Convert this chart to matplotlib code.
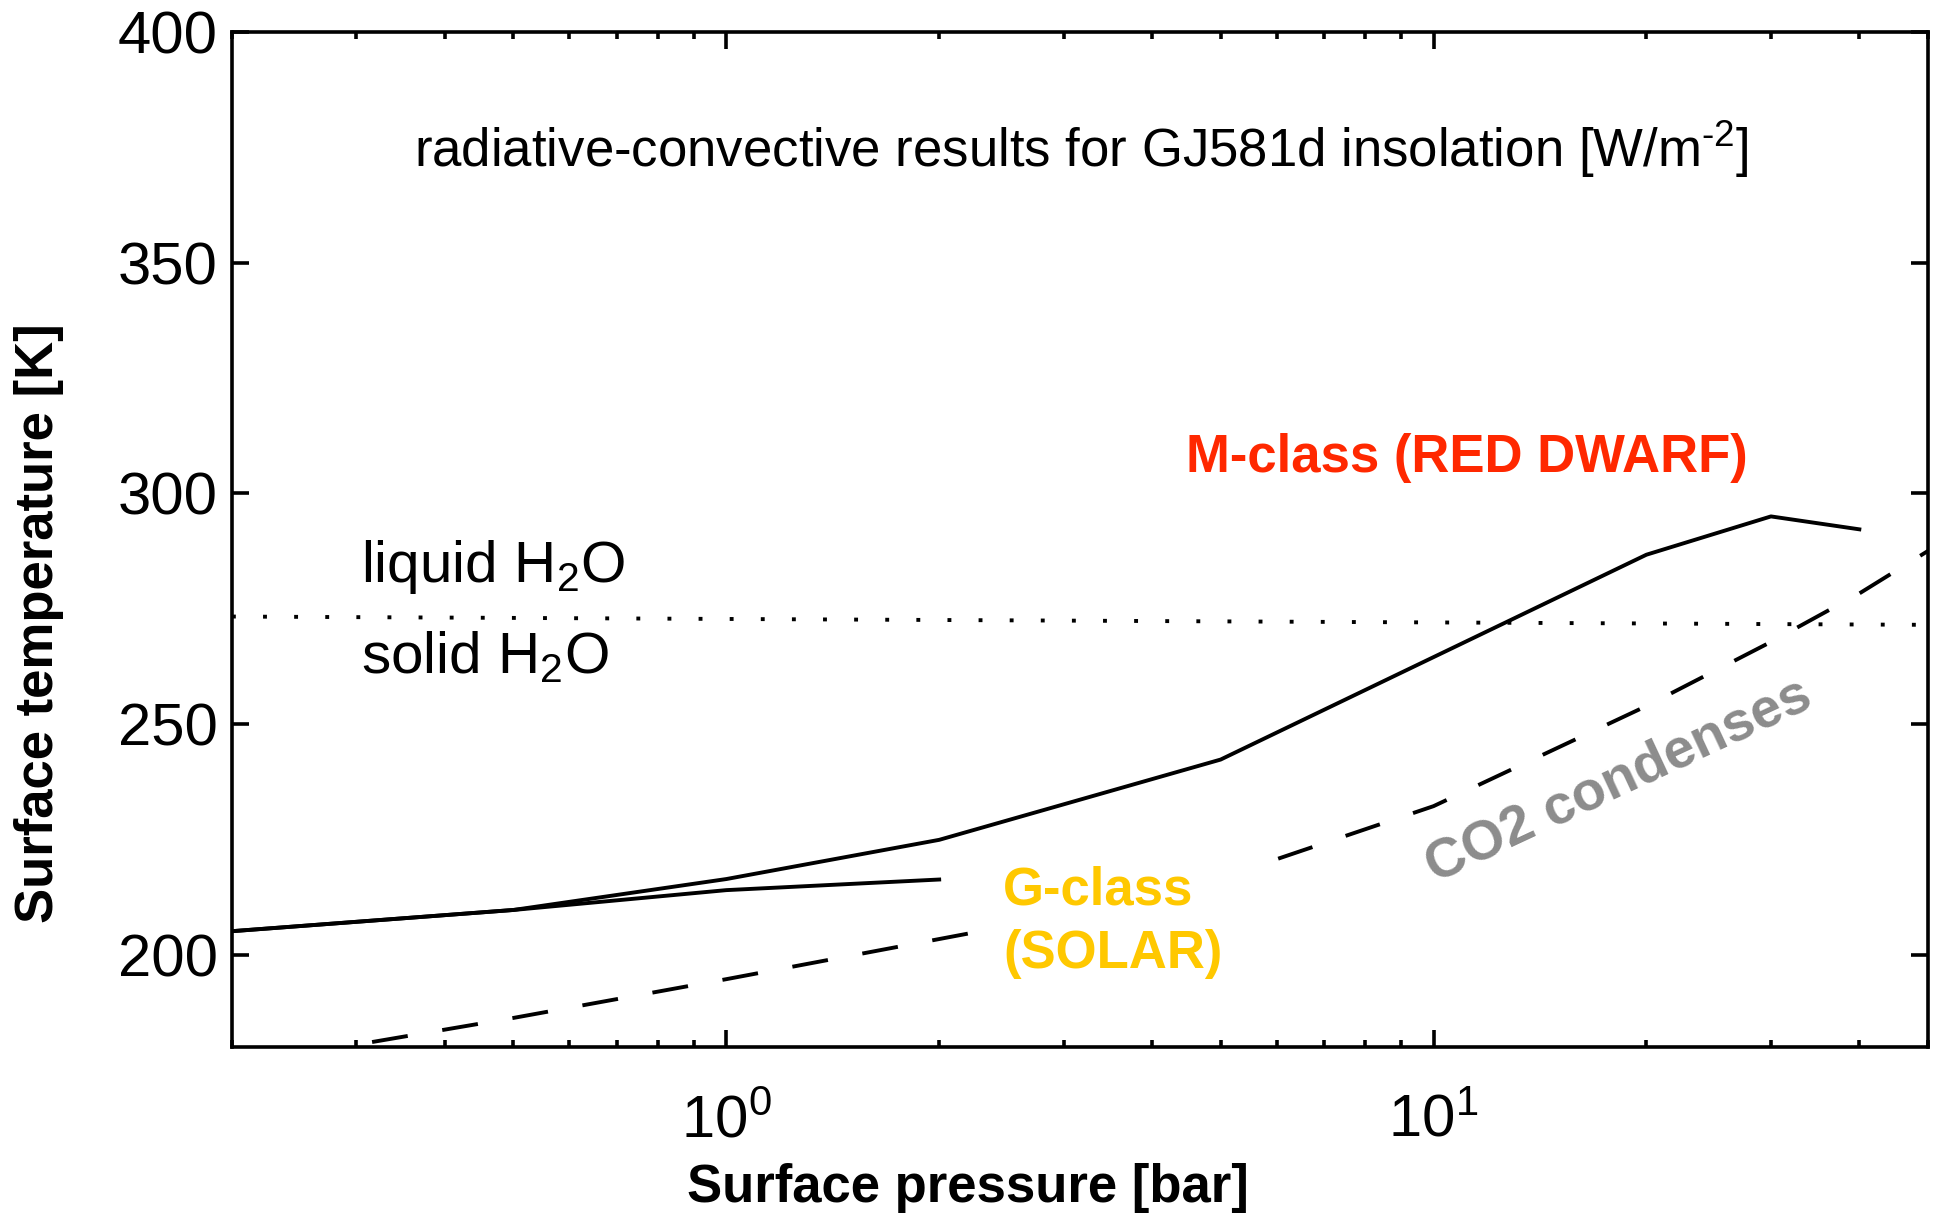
import matplotlib
matplotlib.use("Agg")
import matplotlib.pyplot as plt
from matplotlib.patches import Rectangle

plt.rcParams['font.family'] = ['Liberation Sans', 'DejaVu Sans']
plt.rcParams['mathtext.fontset'] = 'custom'
plt.rcParams['mathtext.rm'] = 'Liberation Sans'
plt.rcParams['mathtext.it'] = 'Liberation Sans:italic'
plt.rcParams['mathtext.bf'] = 'Liberation Sans:bold'
plt.rcParams['mathtext.sf'] = 'Liberation Sans'

# ---- data ----
pressure_M = [0.2, 0.5, 1, 2, 5, 10, 20, 30, 40]
temp_M = [205.1, 209.7, 216.4, 224.9, 242.3, 264.5, 286.7, 295.0, 292.2]

pressure_G = [0.2, 0.5, 1, 2]
temp_G = [205.1, 209.7, 214.0, 216.3]

pressure_co2 = [0.2, 0.3, 0.5, 1, 2, 3, 5, 10, 20, 30, 40, 50]
temp_co2 = [175.7, 180.5, 186.3, 194.7, 203.4, 208.5, 216.6, 232.2, 253.9, 267.8, 278.3, 287.5]

freeze_p = [0.2, 50]
freeze_T = [273.3, 271.5]

y_ticks = [200, 250, 300, 350, 400]
x_limits = [0.2, 50]
y_limits = [180, 400]

# ---- figure ----
fig = plt.figure(figsize=(19.36, 12.2), dpi=100)
ax = fig.add_axes([0.1198, 0.1418, 0.8760, 0.8320])
ax.set_xscale('log')

lw = 2.8
ax.plot(pressure_M, temp_M, color='black', lw=lw, zorder=3)
ax.plot(pressure_G, temp_G, color='black', lw=lw, zorder=3)
ax.plot(pressure_co2, temp_co2, color='black', lw=lw, linestyle=(0, (9.3, 9)), zorder=2)
ax.plot(freeze_p, freeze_T, color='black', lw=lw, linestyle=(0, (1, 7)),
        dash_capstyle='butt', zorder=2)

ax.set_xlim(*x_limits)
ax.set_ylim(*y_limits)
ax.set_yticks(y_ticks)

ax.tick_params(which='both', direction='in', top=True, right=True, width=2.6,
               labelsize=43)
ax.tick_params(which='major', length=12)
ax.tick_params(axis='y', which='major', pad=10)
ax.tick_params(axis='x', which='major', pad=34)
ax.tick_params(which='minor', length=5)
for s in ax.spines.values():
    s.set_linewidth(2.6)

# white patch behind the G-class label (hides the dashed line there)
ax.add_patch(Rectangle((0.4458, 0.045), 0.1675, 0.154, transform=ax.transAxes,
                       facecolor='white', edgecolor='none', zorder=4))

ax.text(0.501, 0.867, r'radiative-convective results for GJ581d insolation [W/m$^{\text{-2}}$]',
        transform=ax.transAxes, ha='center', va='baseline', fontsize=38, zorder=5)
ax.text(0.076, 0.4584, r'liquid H$_2$O', transform=ax.transAxes,
        ha='left', va='baseline', fontsize=42, zorder=5)
ax.text(0.076, 0.368, r'solid H$_2$O', transform=ax.transAxes,
        ha='left', va='baseline', fontsize=42, zorder=5)
ax.text(0.728, 0.5668, 'M-class (RED DWARF)', transform=ax.transAxes,
        ha='center', va='baseline', fontsize=38, fontweight='bold',
        color='#ff2800', zorder=5)
ax.text(0.4546, 0.1399, 'G-class', transform=ax.transAxes,
        ha='left', va='baseline', fontsize=38, fontweight='bold',
        color='#ffc800', zorder=5)
ax.text(0.4546, 0.0777, '(SOLAR)', transform=ax.transAxes,
        ha='left', va='baseline', fontsize=38, fontweight='bold',
        color='#ffc800', zorder=5)
ax.text(0.818, 0.262, 'CO2 condenses', transform=ax.transAxes,
        rotation=25, rotation_mode='anchor', ha='center', va='center',
        fontsize=40, fontweight='bold', color='#8c8c8c', zorder=5)

ax.set_xlabel('Surface pressure [bar]', fontsize=38, fontweight='bold', va='baseline')
ax.xaxis.set_label_coords(0.434, -0.1527)
ax.set_ylabel('Surface temperature [K]', fontsize=38, fontweight='bold', va='center')
ax.yaxis.set_label_coords(-0.1135, 0.4177)

fig.savefig('out.png', dpi=100, facecolor='white')
